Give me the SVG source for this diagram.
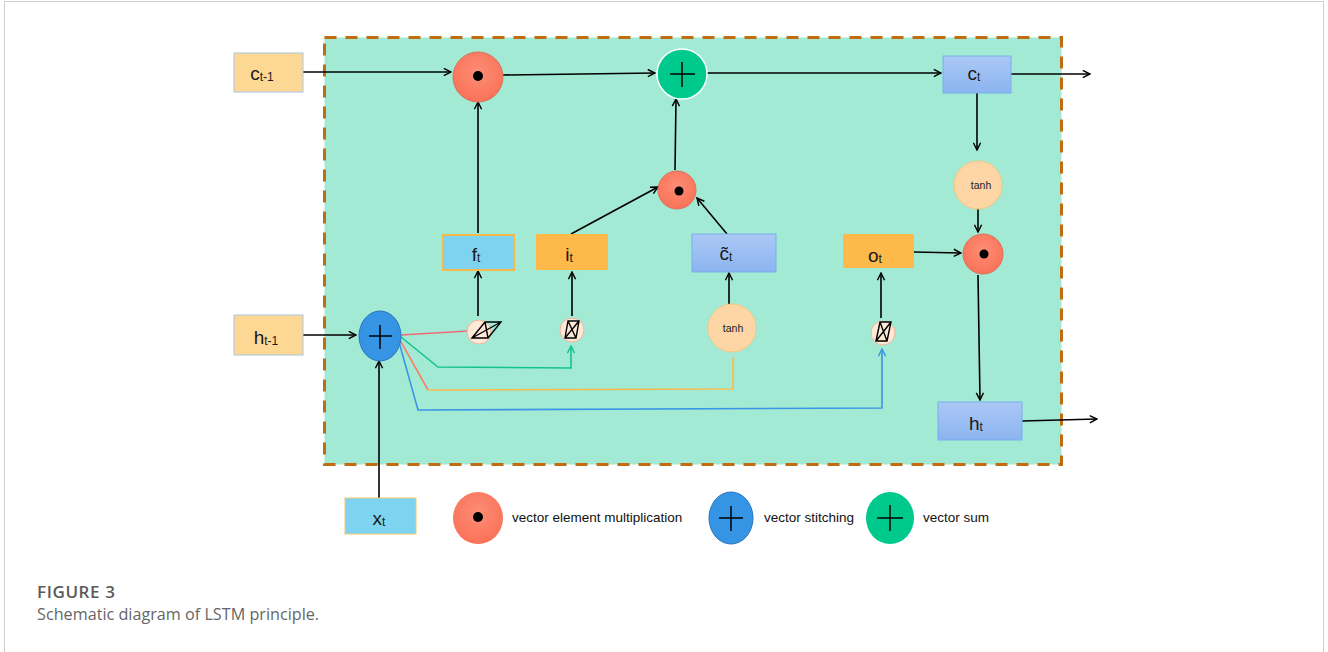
<svg xmlns="http://www.w3.org/2000/svg" width="1328" height="652" viewBox="0 0 1328 652">
<style>
.lbl{font-family:"Liberation Sans",Arial,sans-serif;font-size:19px;fill:#1a1a1a;text-anchor:middle}
.sub{font-size:12px}
.small{font-family:"Liberation Sans",Arial,sans-serif;font-size:10.5px;fill:#222;text-anchor:middle}
.leg{font-family:"Liberation Sans",Arial,sans-serif;font-size:13.5px;fill:#111}
.arr{stroke:#000;stroke-width:1.6;fill:none;marker-end:url(#ah)}
.orange{fill:#fdd895;stroke:#a9c6e2;stroke-width:1}
.gate{fill:#fdb94a}
.bluebox{fill:url(#gb);stroke:#78aeee;stroke-width:1}
.sig{fill:#fde9d6;stroke:#f2b49a;stroke-width:1}
.sym{fill:none;stroke:#000;stroke-width:1.4}
.tanh{fill:#fed6a6;stroke:#f7c67c;stroke-width:1}
.mul{fill:url(#gm);stroke:#d9705c;stroke-width:1}
</style>
<defs>
<marker id="ah" viewBox="0 0 10 10" refX="9" refY="5" markerWidth="9" markerHeight="9" markerUnits="userSpaceOnUse" orient="auto">
<path d="M1,1 L9,5 L1,9" fill="none" stroke="#000" stroke-width="1.6"/>
</marker>
<marker id="ahg" viewBox="0 0 10 10" refX="9" refY="5" markerWidth="9" markerHeight="9" markerUnits="userSpaceOnUse" orient="auto">
<path d="M1,1 L9,5 L1,9" fill="none" stroke="#13c48a" stroke-width="1.6"/>
</marker>
<marker id="ahb" viewBox="0 0 10 10" refX="9" refY="5" markerWidth="9" markerHeight="9" markerUnits="userSpaceOnUse" orient="auto">
<path d="M1,1 L9,5 L1,9" fill="none" stroke="#3b95e6" stroke-width="1.6"/>
</marker>
<linearGradient id="gb" x1="0" y1="0" x2="0" y2="1">
<stop offset="0" stop-color="#abc8f5"/><stop offset="1" stop-color="#8bb4f0"/>
</linearGradient>
<radialGradient id="gm" cx="0.5" cy="0.4" r="0.6">
<stop offset="0" stop-color="#fd8d75"/><stop offset="1" stop-color="#f97258"/>
</radialGradient>
</defs>
<rect x="4.5" y="1.5" width="1319" height="660" fill="#fff" stroke="#cfcfcf" stroke-width="1"/>
<rect x="324.5" y="37.5" width="737" height="427" fill="#a3ead4" stroke="#c26c12" stroke-width="3" stroke-dasharray="12,9"/>

<g id="connectors">
<line class="arr" x1="303" y1="72" x2="451" y2="72"/>
<line class="arr" x1="503" y1="75" x2="655" y2="73"/>
<line class="arr" x1="707" y1="73" x2="941" y2="73"/>
<line class="arr" x1="1011" y1="74" x2="1090" y2="74"/>
<line class="arr" x1="977" y1="93" x2="977" y2="150"/>
<line class="arr" x1="978" y1="203" x2="978" y2="232"/>
<line class="arr" x1="914" y1="252" x2="961" y2="253"/>
<line class="arr" x1="978" y1="275" x2="980" y2="400"/>
<line class="arr" x1="1022" y1="421" x2="1097" y2="419"/>
<line class="arr" x1="675" y1="170" x2="676" y2="99"/>
<line class="arr" x1="571" y1="234" x2="658" y2="187"/>
<line class="arr" x1="727" y1="234" x2="697" y2="198"/>
<line class="arr" x1="478" y1="233" x2="478" y2="102"/>
<line class="arr" x1="729" y1="304" x2="729" y2="273"/>
<line class="arr" x1="478" y1="316" x2="478" y2="271"/>
<line class="arr" x1="572" y1="316" x2="572" y2="272"/>
<line class="arr" x1="881" y1="318" x2="881" y2="273"/>
<line class="arr" x1="303" y1="335" x2="356" y2="335"/>
<line class="arr" x1="379" y1="498" x2="379" y2="361"/>
<line x1="401" y1="335" x2="468" y2="331" stroke="#f06a78" stroke-width="1.5"/>
<polyline points="401,337 438,367 571,368 571,346" fill="none" stroke="#13c48a" stroke-width="1.6" marker-end="url(#ahg)"/>
<line x1="400" y1="340" x2="428" y2="390" stroke="#f88068" stroke-width="1.6"/>
<polyline points="428,390 733,389 733,357" fill="none" stroke="#fdb94a" stroke-width="1.6"/>
<polyline points="399,342 418,410 882,408 882,349" fill="none" stroke="#3b95e6" stroke-width="1.6" marker-end="url(#ahb)"/>
</g>

<g id="c_prev"><rect class="orange" x="234" y="53" width="69" height="39"/><text class="lbl" x="262" y="80">c<tspan class="sub" dy="1">t-1</tspan></text></g>
<g id="mul_f"><circle class="mul" cx="478" cy="77" r="25"/><circle cx="478" cy="76" r="5" fill="#000"/></g>
<g id="sum"><circle cx="682" cy="74" r="25" fill="#00c98d" stroke="#fff" stroke-width="1.5"/><path d="M670,74 H695 M682,62 V87" stroke="#000" stroke-width="1.5"/></g>
<g id="c_t"><rect class="bluebox" x="943" y="56" width="68" height="37"/><text class="lbl" x="974" y="80">c<tspan class="sub" dy="1">t</tspan></text></g>
<g id="tanh_c"><circle class="tanh" cx="978" cy="185" r="24"/><text class="small" x="981" y="189">tanh</text></g>
<g id="mul_o"><circle class="mul" cx="983" cy="254" r="20"/><circle cx="984" cy="254" r="4.5" fill="#000"/></g>
<g id="o_t"><rect class="gate" x="843" y="234" width="71" height="34"/><text class="lbl" x="875" y="262">o<tspan class="sub" dy="1">t</tspan></text></g>
<g id="h_t"><rect class="bluebox" x="938" y="402" width="84" height="38"/><text class="lbl" x="976" y="430">h<tspan class="sub" dy="1">t</tspan></text></g>
<g id="mul_i"><circle class="mul" cx="677" cy="190" r="19"/><circle cx="679" cy="191" r="4.5" fill="#000"/></g>
<g id="f_t"><rect x="443" y="235" width="71" height="35" fill="#7dd3f0" stroke="#f7b84a" stroke-width="2"/><text class="lbl" x="476" y="261">f<tspan class="sub" dy="1">t</tspan></text></g>
<g id="i_t"><rect class="gate" x="536" y="234" width="72" height="36"/><text class="lbl" x="569" y="261">i<tspan class="sub" dy="1">t</tspan></text></g>
<g id="c_tilde"><rect class="bluebox" x="692" y="234" width="84" height="38"/><text class="lbl" x="726" y="260">c̃<tspan class="sub" dy="1">t</tspan></text></g>
<g id="tanh_g"><circle class="tanh" cx="732" cy="328" r="24"/><text class="small" x="733" y="332">tanh</text></g>
<g id="sig_f"><circle class="sig" cx="479" cy="332" r="12"/><path class="sym" d="M472,338 L485,322 L501,322 L488,338 Z M472,338 L485,322 M485,322 L488,338 M472,338 L501,322"/></g>
<g id="sig_i"><circle class="sig" cx="572" cy="330" r="12"/><path class="sym" d="M565,338 L568,321 L579,321 L576,338 Z M565,338 L579,321 M568,321 L576,338"/></g>
<g id="sig_o"><circle class="sig" cx="883" cy="333" r="12"/><path class="sym" d="M876,341 L880,322 L891,322 L887,341 Z M876,341 L891,322 M880,322 L887,341"/></g>
<g id="stitch"><ellipse cx="380" cy="336" rx="21" ry="25" fill="#3594e4" stroke="#2a74c0" stroke-width="1"/><path d="M369,336 H392 M380,325 V349" stroke="#000" stroke-width="1.5"/></g>
<g id="h_prev"><rect class="orange" x="234" y="315" width="69" height="40"/><text class="lbl" x="266" y="344">h<tspan class="sub" dy="1">t-1</tspan></text></g>
<g id="x_t"><rect x="345" y="498" width="71" height="36" fill="#7dd3f0" stroke="#f7c86a" stroke-width="1"/><text class="lbl" x="379" y="525">x<tspan class="sub" dy="1">t</tspan></text></g>

<g id="legend_mul"><ellipse cx="478" cy="518" rx="25" ry="26" fill="url(#gm)"/><circle cx="478" cy="517" r="5" fill="#000"/><text class="leg" x="512" y="522">vector element multiplication</text></g>
<g id="legend_stitch"><ellipse cx="731" cy="518" rx="22" ry="26" fill="#3594e4" stroke="#2a74c0" stroke-width="1"/><path d="M719,518 H743 M731,506 V531" stroke="#000" stroke-width="1.5"/><text class="leg" x="764" y="522">vector stitching</text></g>
<g id="legend_sum"><ellipse cx="890" cy="518" rx="24" ry="26" fill="#00c98d"/><path d="M877,518 H903 M890,505 V531" stroke="#000" stroke-width="1.5"/><text class="leg" x="923" y="522">vector sum</text></g>

<g id="caption">
<text x="37" y="598" font-family="'Open Sans',sans-serif" font-size="17" font-weight="600" fill="#5a5a5a" letter-spacing="0.6">FIGURE 3</text>
<text x="37" y="620" font-family="'Open Sans',sans-serif" font-size="16.2" fill="#666">Schematic diagram of LSTM principle.</text>
</g>
</svg>
